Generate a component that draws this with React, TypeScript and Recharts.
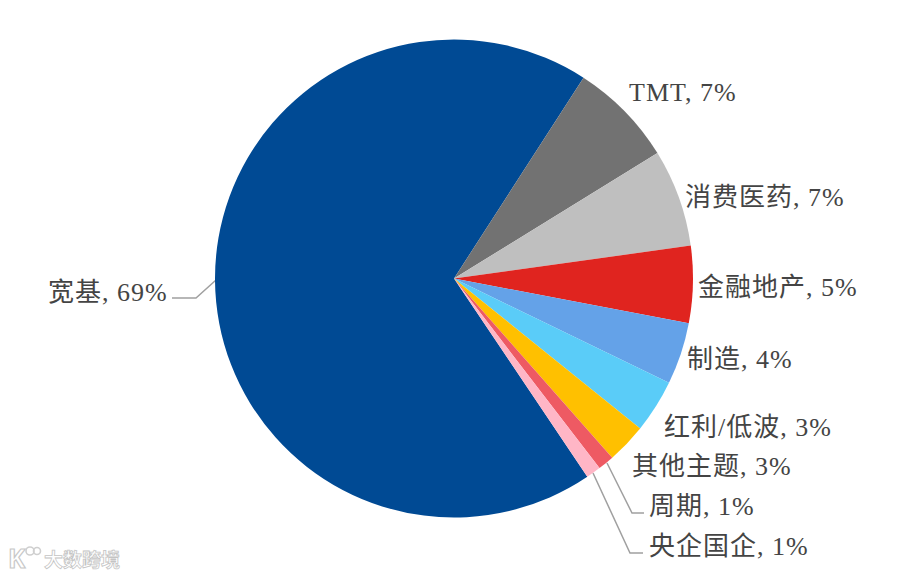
import { PieChart, Pie, Cell } from 'recharts'

const categories = ['宽基', 'TMT', '消费医药', '金融地产', '制造', '红利/低波', '其他主题', '周期', '央企国企']
const values = [68.6, 7.1, 6.6, 5.2, 4.2, 3.6, 2.7, 1.1, 1.0]
const colors = ['#004a94', '#727272', '#bfbfbf', '#e0241f', '#64a2e8', '#5accf8', '#ffc000', '#ee5a63', '#ffb6c6']
const labels = ['宽基, 69%', 'TMT, 7%', '消费医药, 7%', '金融地产, 5%', '制造, 4%', '红利/低波, 3%', '其他主题, 3%', '周期, 1%', '央企国企, 1%']
const labelX = [48, 629, 685, 698, 687, 664, 632, 649, 649]
const labelY = [292, 92, 197, 287, 359, 427, 466, 506, 546]
const leaderLines = ['M172 298 H196 L216 280', 'M607 463 L632 513 H644', 'M593 473 L630 553 H643']

const data = categories.map((name, i) => ({ name, value: values[i] }))
const font = '"Liberation Serif", "Noto Sans CJK SC", serif'

export default function App() {
  return (
    <div style={{ position: 'absolute', left: 0, top: 0, width: 907, height: 575, background: '#fff' }}>
      <PieChart width={907} height={575} margin={{ top: 0, right: 0, bottom: 0, left: 0 }}>
        <Pie
          data={data}
          dataKey="value"
          cx={454}
          cy={278.5}
          outerRadius={239}
          startAngle={-56.1}
          endAngle={-416.1}
          stroke="none"
          label={false}
          labelLine={false}
          isAnimationActive={false}
        >
          {data.map((d, i) => <Cell key={d.name} fill={colors[i]} />)}
        </Pie>
        {leaderLines.map(d => <path key={d} d={d} fill="none" stroke="#a0a0a0" strokeWidth={1.5} />)}
        {labels.map((t, i) => (
          <text key={t} x={labelX[i]} y={labelY[i]} dominantBaseline="central" fontFamily={font} fontSize={26} letterSpacing={1} fill="#444">{t}</text>
        ))}
        {/* watermark */}
        <text x={8} y={558} dominantBaseline="central" fontFamily='"Noto Sans", sans-serif' fontWeight={700} fontSize={26} fill="#fff" stroke="#c8c8c8" strokeWidth={1.2}>K</text>
        <circle cx={30} cy={551} r={4} fill="none" stroke="#cfcfcf" strokeWidth={1.6} />
        <circle cx={37} cy={551} r={3.5} fill="none" stroke="#cfcfcf" strokeWidth={1.6} />
        <text x={44} y={558} dominantBaseline="central" fontFamily='"Noto Sans CJK SC", sans-serif' fontWeight={700} fontSize={19} fill="#fff" stroke="#c4c4c4" strokeWidth={0.8}>大数跨境</text>
      </PieChart>
    </div>
  )
}
